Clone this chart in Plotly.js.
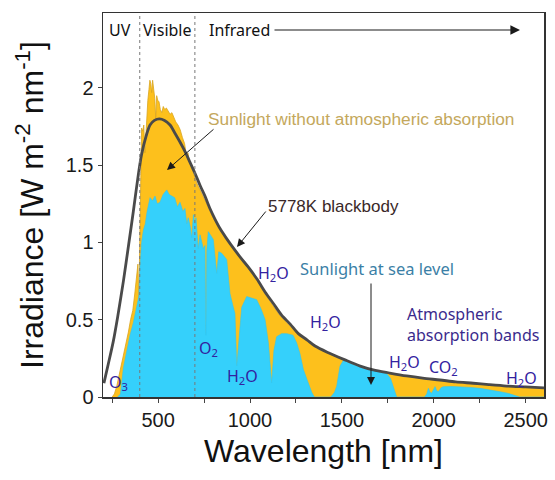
<!DOCTYPE html>
<html>
<head>
<meta charset="utf-8">
<script src="https://cdn.plot.ly/plotly-3.0.1.min.js"></script>
<style>html,body{margin:0;padding:0;background:#fff;}#chart{width:555px;height:480px;}</style>
</head>
<body>
<div id="chart"></div>
<script>
// Sunlight without atmospheric absorption (top of atmosphere)
const etWavelength = [250,262,275,288,300,312,325,338,350,362,372,382,390,395,398,402,406,410,416,422,428,433,438,444,450,455,460,465,470,476,482,487,492,498,505,512,520,528,536,545,555,565,575,585,596,608,620,632,644,655,662,670,680,690,700,712,725,740,760,780,800,825,850,880,910,940,970,1000,1040,1080,1120,1160,1200,1250,1300,1350,1400,1450,1500,1550,1600,1700,1800,1900,2000,2100,2200,2300,2400,2500,2600];
const etIrradiance = [0,0.02,0.07,0.14,0.20,0.26,0.33,0.42,0.50,0.56,0.66,0.78,0.86,0.62,0.90,1.05,1.55,1.74,1.72,1.76,1.58,1.72,1.84,1.92,1.99,2.05,2.03,1.97,2.05,1.98,1.93,1.80,1.95,1.92,1.91,1.86,1.84,1.88,1.86,1.87,1.85,1.83,1.84,1.81,1.78,1.76,1.73,1.68,1.64,1.55,1.58,1.53,1.49,1.45,1.42,1.38,1.35,1.31,1.26,1.21,1.16,1.11,1.06,1.01,0.96,0.91,0.87,0.82,0.75,0.67,0.60,0.53,0.48,0.42,0.37,0.33,0.30,0.27,0.245,0.22,0.197,0.168,0.145,0.128,0.113,0.100,0.089,0.079,0.070,0.063,0.057];

// Sunlight at sea level
const seaWavelength = [280,295,311,330,347,365,383,395,401,410,420,430,440,447,456,470,483,495,510,527,547,560,574,590,605,619,635,646,656,664,675,683,692,700,706,718,728,746,755,760,765,773,800,819,830,846,873,891,905,918,928,940,955,982,1010,1036,1060,1082,1100,1118,1130,1145,1172,1200,1234,1254,1272,1290,1308,1336,1350,1440,1460,1472,1490,1510,1550,1580,1620,1671,1710,1744,1765,1780,1798,1950,1962,1971,1980,1989,2007,2016,2025,2040,2052,2100,2125,2200,2252,2300,2361,2400,2431,2468,2600];
const seaIrradiance = [0,0.02,0.19,0.30,0.40,0.48,0.57,0.65,0.83,1.00,1.08,1.12,1.20,1.24,1.29,1.27,1.30,1.25,1.26,1.31,1.34,1.31,1.30,1.29,1.23,1.26,1.20,1.22,1.12,1.16,1.10,1.03,1.18,1.12,1.16,0.96,1.05,0.96,0.98,0.40,0.95,1.07,1.02,0.80,0.94,0.93,0.89,0.67,0.60,0.54,0.20,0.35,0.58,0.65,0.64,0.63,0.57,0.50,0.35,0.09,0.30,0.39,0.41,0.41,0.40,0.35,0.28,0.18,0.12,0.03,0,0,0.03,0.07,0.20,0.24,0.215,0.20,0.185,0.172,0.16,0.15,0.12,0.067,0,0,0.02,0.056,0.03,0.025,0.067,0.04,0.034,0.06,0.067,0.068,0.067,0.062,0.056,0.048,0.034,0.025,0.013,0,0];

// 5778K blackbody curve
const bbWavelength = [205,230,256,280,311,340,365,390,410,435,456,480,506,535,565,590,619,650,673,700,728,755,782,810,837,870,918,950,991,1040,1082,1130,1172,1220,1263,1310,1354,1420,1517,1600,1671,1760,1853,1940,2034,2120,2215,2300,2397,2500,2600];
const bbIrradiance = [0.09,0.22,0.36,0.52,0.75,0.99,1.20,1.42,1.57,1.69,1.76,1.79,1.80,1.79,1.76,1.71,1.65,1.58,1.52,1.45,1.37,1.30,1.22,1.15,1.09,1.03,0.95,0.90,0.84,0.76,0.68,0.60,0.53,0.47,0.41,0.37,0.33,0.29,0.24,0.20,0.175,0.155,0.136,0.122,0.110,0.098,0.089,0.080,0.071,0.065,0.059];

const xTickVals = [500,1000,1500,2000,2500];
const xTickText = ['500','1000','1500','2000','2500'];
const yTickVals = [0,0.5,1,1.5,2];
const yTickText = ['0','0.5','1','1.5','2'];
const bandEdges = [400,700]; // UV|Visible, Visible|Infrared

// layout geometry (pixels)
const W = 555, H = 480;
const M = {l:103, r:11, t:13, b:83};
const pw = W - M.l - M.r, ph = H - M.t - M.b;
const px = x => (x - M.l) / pw;
const py = y => (H - M.b - y) / ph;

const labelFont = "'Noto Sans', 'Open Sans', sans-serif";
const arialFont = "'Liberation Sans', Arial, sans-serif";
const chemColor = '#3322a0';

const traces = [
  {x: etWavelength, y: etIrradiance, type:'scatter', mode:'lines', fill:'tozeroy',
   fillcolor:'#fdc01c', line:{color:'#d9a520', width:0.8}, hoverinfo:'skip'},
  {x: seaWavelength, y: seaIrradiance, type:'scatter', mode:'lines', fill:'tozeroy',
   fillcolor:'#35d0fb', line:{color:'#30c6f2', width:0.6}, hoverinfo:'skip'},
  {x: bbWavelength, y: bbIrradiance, type:'scatter', mode:'lines',
   line:{color:'#4a4a4a', width:2.8, shape:'spline', smoothing:0.8}, hoverinfo:'skip'}
];

function label(text, x, y, size, color, family, extra) {
  return Object.assign({text, xref:'paper', yref:'paper', x:px(x), y:py(y), xanchor:'center', yanchor:'middle',
          showarrow:false, font:{family:family || labelFont, size, color}}, extra || {});
}
function arrow(xHead, yHead, xTail, yTail, width) {
  return {text:'', xref:'paper', yref:'paper', x:px(xHead), y:py(yHead), ax:xTail - xHead, ay:yTail - yHead,
          showarrow:true, arrowhead:2, arrowsize:1.6, arrowwidth:width, arrowcolor:'#1a1a1a'};
}
function chem(text, x, y) { return label(text, x, y, 16, chemColor); }

const annotations = [
  label('UV', 120, 30, 16, '#111'),
  label('Visible', 167.5, 30, 16, '#111'),
  label('Infrared', 239, 30, 16, '#111'),
  arrow(520, 30, 273, 30, 1.2),
  label('Sunlight without atmospheric absorption', 360.5, 119, 17.3, '#c4a85c', arialFont),
  arrow(167, 170, 215, 128, 1),
  label('5778K blackbody', 333, 207, 17, '#3a2828', arialFont),
  arrow(237, 247, 267, 210, 1),
  label('Sunlight at sea level', 376.5, 268, 16.5, '#3b7fa6'),
  arrow(371, 385, 371, 282, 1),
  label('Atmospheric<br>absorption bands', 405, 324, 16, '#3a2a8c', labelFont, {xanchor:'left', align:'left'}),
  chem('O<sub>3</sub>', 118, 382),
  chem('O<sub>2</sub>', 208, 348),
  chem('H<sub>2</sub>O', 242, 376),
  chem('H<sub>2</sub>O', 273, 273),
  chem('H<sub>2</sub>O', 325, 322),
  chem('H<sub>2</sub>O', 404, 362),
  chem('CO<sub>2</sub>', 443, 367),
  chem('H<sub>2</sub>O', 521, 378)
];

const shapes = bandEdges.map(v => ({type:'line', xref:'x', yref:'paper', x0:v, x1:v, y0:0, y1:1,
  line:{color:'#777', width:1, dash:'dot'}}));

const layout = {
  width:W, height:H, margin:M, paper_bgcolor:'#fff', plot_bgcolor:'#fff', showlegend:false,
  xaxis:{range:[200,2600], tickvals:xTickVals, ticktext:xTickText, ticks:'outside', ticklen:4, tickcolor:'#444',
    minor:{dtick:250, tick0:0, ticks:'outside', ticklen:4, tickcolor:'#444'},
    showline:true, linecolor:'#333', linewidth:1.5, mirror:true, showgrid:false, zeroline:false,
    tickfont:{family:arialFont, size:20, color:'#1a1a1a'},
    title:{text:'Wavelength [nm]', font:{family:arialFont, size:32, color:'#111'}, standoff:10}},
  yaxis:{range:[0,2.485], tickvals:yTickVals, ticktext:yTickText, ticks:'outside', ticklen:4, tickcolor:'#444',
    showline:true, linecolor:'#333', linewidth:1.5, mirror:true, showgrid:false, zeroline:false,
    tickfont:{family:arialFont, size:20, color:'#1a1a1a'},
    title:{text:'Irradiance [W m<sup>-2</sup> nm<sup>-1</sup>]', font:{family:arialFont, size:32, color:'#111'}, standoff:12}},
  annotations, shapes
};

Plotly.newPlot('chart', traces, layout, {staticPlot:true, displayModeBar:false});
</script>
</body>
</html>
